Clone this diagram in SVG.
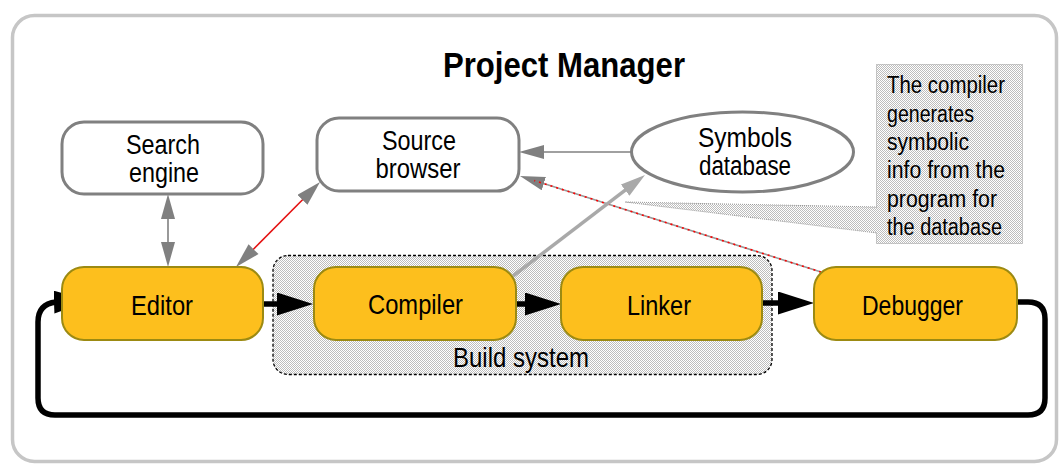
<svg xmlns="http://www.w3.org/2000/svg" width="1063" height="464" viewBox="0 0 1063 464">
<style>
.lbl{font-family:"Liberation Sans",Arial,sans-serif;font-size:28px;fill:#000;text-anchor:middle}
.lbl2{font-family:"Liberation Sans",Arial,sans-serif;font-size:27px;fill:#000;text-anchor:middle}
.note{font-family:"Liberation Sans",Arial,sans-serif;font-size:23px;fill:#000}
.gnode{fill:#fff;stroke:#808080;stroke-width:3}
.onode{fill:#fdbf1d;stroke:#9c8a12;stroke-width:2}
.garrow{fill:none;stroke:#808080;stroke-width:1.6}
.black{fill:none;stroke:#000;stroke-width:5.5}
</style>
<defs>
<pattern id="dots" patternUnits="userSpaceOnUse" width="2" height="2">
<rect width="2" height="2" fill="#fff"/>
<rect width="1" height="1" fill="#bdbdbd"/>
<rect x="1" y="1" width="1" height="1" fill="#bdbdbd"/>
</pattern>
<marker id="gEnd" markerUnits="userSpaceOnUse" markerWidth="26" markerHeight="16" refX="10" refY="7" orient="auto">
<path d="M0,0 L25,7 L0,14 z" fill="#808080"/>
</marker>
<marker id="gStart" markerUnits="userSpaceOnUse" markerWidth="26" markerHeight="16" refX="15" refY="7" orient="auto">
<path d="M25,0 L0,7 L25,14 z" fill="#808080"/>
</marker>
<marker id="hEnd" markerUnits="userSpaceOnUse" markerWidth="26" markerHeight="16" refX="10" refY="7" orient="auto">
<path d="M0,0 L25,7 L0,14 z" fill="#a9a9a9"/>
</marker>
<marker id="bEnd" markerUnits="userSpaceOnUse" markerWidth="37" markerHeight="24" refX="16" refY="11.5" orient="auto">
<path d="M0,0 L36,11.5 L0,23 z" fill="#000"/>
</marker>
</defs>
<rect width="1063" height="464" fill="#fff"/>
<g id="frame">
<rect x="12.5" y="15.5" width="1044" height="446" rx="22" fill="#fff" stroke="#c6c6c6" stroke-width="3.5"/>
</g>
<g id="title">
<text x="443" y="77" font-family="'Liberation Sans',Arial,sans-serif" font-size="35" font-weight="bold" textLength="242" lengthAdjust="spacingAndGlyphs">Project Manager</text>
</g>
<g id="build-system">
<rect x="273" y="255.5" width="499" height="119" rx="15" fill="url(#dots)" stroke="#000" stroke-width="1.3" stroke-dasharray="3 2"/>
<text class="lbl" x="521" y="367" font-size="27" textLength="136" lengthAdjust="spacingAndGlyphs">Build system</text>
</g>
<g id="note">
<rect x="876.5" y="64.5" width="146" height="179" fill="url(#dots)" stroke="#999" stroke-width="1" stroke-dasharray="1 1"/>
<polygon points="625,202 878,207 878,233" fill="url(#dots)"/>
<path d="M877,207 L625,202 L877,233" fill="none" stroke="#999" stroke-width="1" stroke-dasharray="1 1"/>
<text class="note" x="887" y="93" textLength="118" lengthAdjust="spacingAndGlyphs">The compiler</text>
<text class="note" x="887" y="121.5" textLength="87" lengthAdjust="spacingAndGlyphs">generates</text>
<text class="note" x="887" y="150" textLength="82" lengthAdjust="spacingAndGlyphs">symbolic</text>
<text class="note" x="887" y="178" textLength="118" lengthAdjust="spacingAndGlyphs">info from the</text>
<text class="note" x="887" y="206.5" textLength="110" lengthAdjust="spacingAndGlyphs">program for</text>
<text class="note" x="887" y="235" textLength="115" lengthAdjust="spacingAndGlyphs">the database</text>
</g>
<g id="connectors">
<line class="garrow" x1="168" y1="209" x2="168" y2="252" marker-start="url(#gStart)" marker-end="url(#gEnd)"/>
<line x1="246.5" y1="256.3" x2="309.5" y2="192.7" stroke="#e41010" stroke-width="1.6" marker-start="url(#gStart)" marker-end="url(#gEnd)"/>
<line class="garrow" x1="632" y1="152" x2="534" y2="152" marker-end="url(#gEnd)"/>
<line x1="821" y1="272" x2="534.3" y2="180.6" stroke="#9a9a9a" stroke-width="1.6" marker-end="url(#gEnd)"/>
<line x1="821" y1="272" x2="534.3" y2="180.6" stroke="#ff0000" stroke-width="1.6" stroke-dasharray="2 4"/>
<line x1="513" y1="276" x2="633.1" y2="184.1" stroke="#a9a9a9" stroke-width="3.5" marker-end="url(#hEnd)"/>
<line class="black" x1="263" y1="304" x2="293" y2="304" marker-end="url(#bEnd)"/>
<line class="black" x1="516" y1="304" x2="541" y2="304" marker-end="url(#bEnd)"/>
<line class="black" x1="762" y1="303" x2="794" y2="303" marker-end="url(#bEnd)"/>
<path class="black" d="M1017,302 H1028 Q1045,302 1045,319 V398 Q1045,415 1028,415 H55 Q38,415 38,398 V322 Q38,304 56,302 L70,301.5" marker-end="url(#bEnd)"/>
</g>
<g id="node-search">
<rect class="gnode" x="62" y="122" width="201" height="72" rx="22"/>
<text class="lbl2" x="163" y="154" textLength="74" lengthAdjust="spacingAndGlyphs">Search</text>
<text class="lbl2" x="164" y="182" textLength="70" lengthAdjust="spacingAndGlyphs">engine</text>
</g>
<g id="node-source">
<rect class="gnode" x="317" y="118" width="202" height="73" rx="22"/>
<text class="lbl2" x="419" y="149.5" textLength="74" lengthAdjust="spacingAndGlyphs">Source</text>
<text class="lbl2" x="418" y="177.5" textLength="85" lengthAdjust="spacingAndGlyphs">browser</text>
</g>
<g id="node-symbols">
<ellipse class="gnode" cx="742.5" cy="152" rx="111" ry="40"/>
<text class="lbl2" x="745" y="146.5" textLength="94" lengthAdjust="spacingAndGlyphs">Symbols</text>
<text class="lbl2" x="745" y="174.5" textLength="92" lengthAdjust="spacingAndGlyphs">database</text>
</g>
<g id="node-editor">
<rect class="onode" x="62" y="267" width="201" height="73" rx="22"/>
<text class="lbl" x="162" y="315" textLength="62" lengthAdjust="spacingAndGlyphs">Editor</text>
</g>
<g id="node-compiler">
<rect class="onode" x="314" y="267" width="202" height="73" rx="22"/>
<text class="lbl" x="415.5" y="314" textLength="95" lengthAdjust="spacingAndGlyphs">Compiler</text>
</g>
<g id="node-linker">
<rect class="onode" x="561" y="267" width="201" height="73" rx="22"/>
<text class="lbl" x="659" y="315" textLength="64" lengthAdjust="spacingAndGlyphs">Linker</text>
</g>
<g id="node-debugger">
<rect class="onode" x="814" y="267" width="203" height="73" rx="22"/>
<text class="lbl" x="912.5" y="315" textLength="101" lengthAdjust="spacingAndGlyphs">Debugger</text>
</g>
</svg>
